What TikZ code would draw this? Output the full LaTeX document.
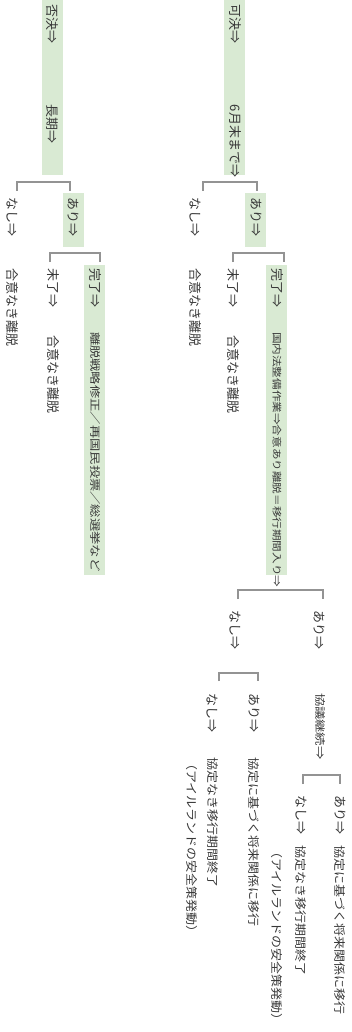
\documentclass[tikz,border=0pt]{standalone}
\usepackage{fontspec}
\newfontfamily\jp{Noto Sans CJK JP}
\definecolor{gfill}{HTML}{D9EAD3}
\definecolor{txt}{HTML}{383838}
\definecolor{brc}{HTML}{939393}
\newcommand{\sq}[2]{\scalebox{1}[#1]{#2}}
\begin{document}
\begin{tikzpicture}[x=1pt,y=-1pt,
  t/.style={rotate=-90,anchor=base west,inner sep=0pt,outer sep=0pt,text=txt,font=\jp\fontsize{13}{15}\selectfont},
  tsmall/.style={t,font=\jp\fontsize{11.6}{14}\selectfont},
  tmid/.style={t,font=\jp\fontsize{13.3}{15}\selectfont},
  br/.style={draw=brc,line width=1.5pt,line join=miter},
  gbox/.style={fill=gfill,draw=none}]
\useasboundingbox (0,0) rectangle (351,1032);
% green highlights
\fill[gbox] (224,0) rectangle (245,175);
\fill[gbox] (42,0) rectangle (63,175);
\fill[gbox] (245,193) rectangle (266,247);
\fill[gbox] (63,193) rectangle (84,247);
\fill[gbox] (266,265) rectangle (287,575);
\fill[gbox] (84,265) rectangle (105,575);
% ---- 可決 branch
\node[t] (kaketsu) at (230.1,5) {可決⇒};
\node[t] (june) at (230.1,105) {6月末まで⇒};
\node[t] (k-ari) at (251.1,198) {あり⇒};
\node[t] (k-nashi) at (190.1,198) {なし⇒};
\node[t] (k-nashi-r) at (190.1,268) {合意なき離脱};
\node[t] (k-kanryo) at (272.1,268) {完了⇒};
\node[t] (k-miryo) at (228.1,268) {未了⇒};
\node[t] (k-miryo-r) at (228.1,335) {合意なき離脱};
\node[tsmall] (k-kanryo-r) at (273.3,332) {\sq{0.82}{国内法整備作業⇒合意あり離脱＝移行期間入り⇒}};
\node[t] (t-ari) at (314.1,610) {あり⇒};
\node[t] (t-nashi) at (230.1,610) {なし⇒};
\node[tmid] (kyogi) at (316.6,693) {\sq{0.8}{協議継続⇒}};
\node[t] (n-ari) at (249.1,693) {あり⇒};
\node[t] (n-nashi) at (207.1,693) {なし⇒};
\node[t] (n-ari-r) at (249.6,757) {\sq{0.9}{協定に基づく将来関係に移行}};
\node[t] (n-nashi-r) at (208.6,757) {\sq{0.9}{協定なき移行期間終了}};
\node[t] (n-nashi-r2) at (187.6,757) {\sq{0.9}{（アイルランドの安全策発動）}};
\node[t] (g-ari) at (335.1,795) {あり⇒};
\node[t] (g-ari-r) at (335.6,845) {\sq{0.9}{協定に基づく将来関係に移行}};
\node[t] (g-nashi) at (296.1,795) {なし⇒};
\node[t] (g-nashi-r) at (296.6,845) {\sq{0.9}{協定なき移行期間終了}};
\node[t] (g-nashi-r2) at (272.6,845) {\sq{0.9}{（アイルランドの安全策発動）}};
% ---- 否決 branch
\node[t] (hiketsu) at (47.1,5) {否決⇒};
\node[t] (choki) at (47.1,105) {長期⇒};
\node[t] (h-ari) at (68.1,198) {あり⇒};
\node[t] (h-nashi) at (7.1,198) {なし⇒};
\node[t] (h-nashi-r) at (7.1,268) {合意なき離脱};
\node[t] (h-kanryo) at (90.1,268) {完了⇒};
\node[tmid] (h-kanryo-r) at (91,332) {\sq{0.8}{離脱戦略修正／再国民投票／総選挙など}};
\node[t] (h-miryo) at (48.1,268) {未了⇒};
\node[t] (h-miryo-r) at (48.1,335) {合意なき離脱};
% bracket ends
\coordinate (b1a) at (203,191); \coordinate (b1b) at (257,191);
\coordinate (c1a) at (17,191);  \coordinate (c1b) at (70,191);
\coordinate (b2a) at (233,262); \coordinate (b2b) at (284,262);
\coordinate (c2a) at (50,262);  \coordinate (c2b) at (100,262);
\coordinate (b3a) at (238,599); \coordinate (b3b) at (323,599);
\coordinate (b4a) at (219,681); \coordinate (b4b) at (258,681);
\coordinate (b5a) at (303,784); \coordinate (b5b) at (340,784);
\draw[br] (b1a) -- ++(0,-9) -| (b1b);
\draw[br] (c1a) -- ++(0,-9) -| (c1b);
\draw[br] (b2a) -- ++(0,-9) -| (b2b);
\draw[br] (c2a) -- ++(0,-9) -| (c2b);
\draw[br] (b3a) -- ++(0,-9) -| (b3b);
\draw[br] (b4a) -- ++(0,-8) -| (b4b);
\draw[br] (b5a) -- ++(0,-9) -| (b5b);
\end{tikzpicture}
\end{document}
